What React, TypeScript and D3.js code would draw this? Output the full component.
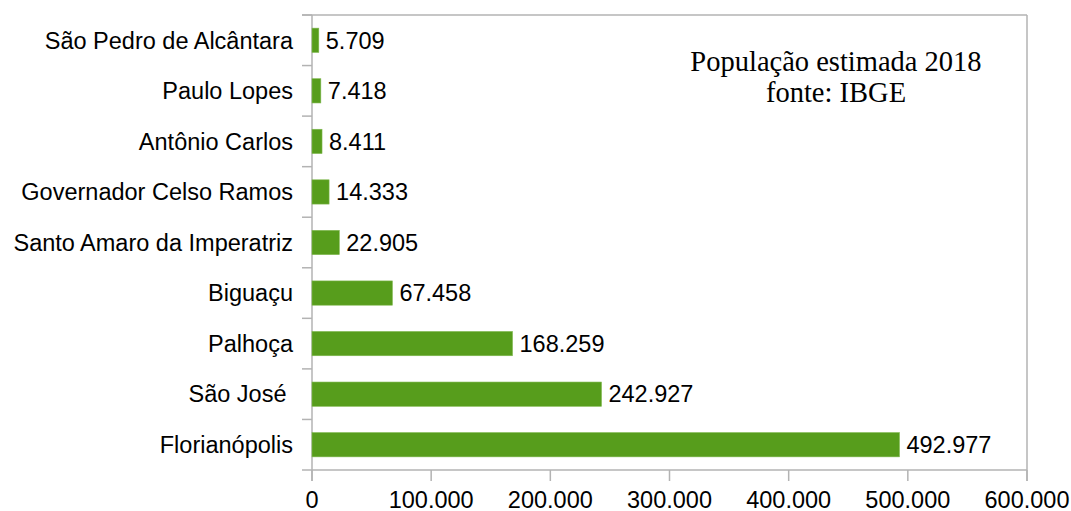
import React from "react";
import * as d3 from "d3";

const categories = [
  "São Pedro de Alcântara",
  "Paulo Lopes",
  "Antônio Carlos",
  "Governador Celso Ramos",
  "Santo Amaro da Imperatriz",
  "Biguaçu",
  "Palhoça",
  "São José ",
  "Florianópolis",
];
const values = [5709, 7418, 8411, 14333, 22905, 67458, 168259, 242927, 492977];
const xTicks = [0, 100000, 200000, 300000, 400000, 500000, 600000];
const titleLines = ["População estimada 2018", "fonte: IBGE"];

const W = 1071;
const H = 511;
const left = 312;
const right = 1027;
const top = 15;
const bottom = 470;

const fmt = (v: number) => d3.format(",")(v).replace(/,/g, ".");

export default function App() {
  const x = d3.scaleLinear().domain([0, 600000]).range([left, right]);
  const y = d3.scaleBand<string>().domain(categories).range([top, bottom]).paddingInner(0.52).paddingOuter(0.26);
  const band = d3.scaleBand<string>().domain(categories).range([top, bottom]);
  const grid = "#b3b3b3";
  const font = "'Liberation Sans', Arial, sans-serif";
  const fs = 23.5;
  return (
    <svg width={W} height={H} style={{ position: "absolute", left: 0, top: 0, background: "#fff" }}>
      <line x1={left - 10} x2={right} y1={top} y2={top} stroke={grid} strokeWidth={1.5} />
      <line x1={right} x2={right} y1={top} y2={bottom + 11} stroke={grid} strokeWidth={1.5} />
      <line x1={left - 10} x2={right} y1={bottom} y2={bottom} stroke={grid} strokeWidth={1.5} />
      <line x1={left} x2={left} y1={top} y2={bottom + 11} stroke={grid} strokeWidth={1.5} />
      {categories.map((c) => (
        <line key={"t" + c} x1={left - 10} x2={left} y1={band(c)!} y2={band(c)!} stroke={grid} strokeWidth={1.5} />
      ))}
      {xTicks.map((t) => (
        <g key={"x" + t}>
          <line x1={x(t)} x2={x(t)} y1={bottom} y2={bottom + 11} stroke={grid} strokeWidth={1.5} />
          <text x={x(t)} y={508} textAnchor="middle" fontFamily={font} fontSize={fs} fill="#000">
            {fmt(t)}
          </text>
        </g>
      ))}
      {categories.map((c, i) => {
        const cy = band(c)! + band.bandwidth() / 2;
        return (
          <g key={c}>
            <rect x={x(0)} y={y(c)!} width={x(values[i]) - x(0)} height={y.bandwidth()} fill="#579d1c" stroke="#7fb84f" strokeWidth={0.6} />
            <text x={x(values[i]) + 7} y={cy + 8.3} fontFamily={font} fontSize={fs} fill="#000">
              {fmt(values[i])}
            </text>
            <text x={left - 19} y={cy + 8.3} textAnchor="end" fontFamily={font} fontSize={fs} fill="#000" style={{ whiteSpace: "pre" }}>
              {c}
            </text>
          </g>
        );
      })}
      {titleLines.map((l, i) => (
        <text key={l} x={836} y={70.7 + i * 31} textAnchor="middle" fontFamily="'Liberation Serif', 'Times New Roman', serif" fontSize={28.5} fill="#000">
          {l}
        </text>
      ))}
    </svg>
  );
}
